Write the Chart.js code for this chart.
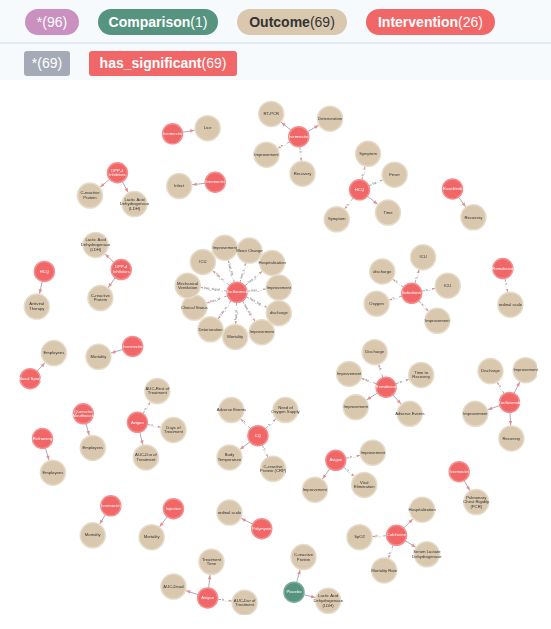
<!DOCTYPE html>
<html>
<head>
<meta charset="utf-8">
<script src="https://cdn.jsdelivr.net/npm/chart.js@4.4.0/dist/chart.umd.min.js"></script>
<style>
    body { margin: 0; width: 551px; height: 629px; overflow: hidden; background: #fff; font-family: "Liberation Sans", Arial, sans-serif; }
    .row1 { position: absolute; left: 0; top: 0; width: 551px; height: 42px; background: #f7fafd; border-bottom: 2px solid #e1eaf4; }
    .row2 { position: absolute; left: 0; top: 44px; width: 551px; height: 36px; background: #f7fafd; }
    .pill { position: absolute; top: 9px; height: 26px; line-height: 26px; border-radius: 13px; font-size: 14px; font-weight: bold; color: #fff; text-align: center; }
    .tag { position: absolute; top: 7px; height: 25px; line-height: 25px; border-radius: 3px; font-size: 14px; font-weight: bold; color: #fff; text-align: center; }
    .pill span, .tag span { font-weight: normal; }
    #wrap { position: absolute; left: 0; top: 80px; width: 551px; height: 549px; }
</style>
</head>
<body>
<div class="row1">
    <div class="pill" style="left:25px;width:54px;background:#c990c0;"><span>*(96)</span></div>
    <div class="pill" style="left:98px;width:120px;background:#569480;">Comparison<span>(1)</span></div>
    <div class="pill" style="left:237px;width:110px;background:#d9c8ae;color:#333;">Outcome<span>(69)</span></div>
    <div class="pill" style="left:366px;width:129px;background:#f16667;">Intervention<span>(26)</span></div>
</div>
<div class="row2">
    <div class="tag" style="left:24px;width:46px;background:#a5abb6;"><span>*(69)</span></div>
    <div class="tag" style="left:89px;width:148px;background:#f16667;">has_significant<span>(69)</span></div>
</div>
<div id="wrap"><canvas id="graph" width="551" height="549"></canvas></div>

<script>
// Intervention nodes (index 26 is the single Comparison node, Placebo)
const interventionNames = ['Ivermectin', 'DPP-4\nInhibitors', 'Ivermectin', 'Ivermectin', 'HCQ', 'Ruxolitinib',
    'HCQ', 'DPP-4\nInhibitors', 'Tocilizumab', 'Sofosbuvir', 'Remdesivir', 'Nasal Spray', 'Ivermectin',
    'Quercetin\nMouthwash', 'Reframing', 'Avigan', 'CQ', 'Remdesivir', 'Tocilizumab', 'Avigan',
    'Ivermectin', 'Ivermectin', 'Injection', 'Polymyxin', 'Avigan', 'Colchicine', 'Placebo'];
const interventionX = [167, 109, 212, 300, 364, 462, 32, 113, 235, 419, 515, 17, 125, 73, 30, 130, 257, 392, 522, 339, 469, 102, 168, 261, 204, 403, 295];
const interventionY = [122, 163, 173, 125, 181, 180, 267, 265, 289, 290, 264, 380, 346, 417, 443, 426, 440, 389, 405, 466, 478, 514, 517, 538, 611, 545, 605];

// Outcome nodes and the intervention each one hangs from
const outcomeNames = ['Lice',
    'C-reactive\nProtein', 'Lactic Acid\nDehydrogenase\n(LDH)',
    'Infect',
    'RT-PCR', 'Deterioration', 'Improvement', 'Recovery',
    'Symptom', 'Fever', 'Time', 'Symptom',
    'Recovery',
    'Antiviral\nTherapy',
    'Lactic Acid\nDehydrogenase\n(LDH)', 'C-reactive\nProtein',
    'Improvement', 'Mean Change', 'Hospitalisation', 'Improvement', 'discharge', 'Improvement',
    'Mortality', 'Deterioration', 'Clinical Status', 'Mechanical\nVentilation', 'ICU',
    'ICU', 'discharge', 'ICU', 'Oxygen', 'Improvement',
    'ordinal scale',
    'Employees', 'Mortality', 'Employees', 'Employees',
    'AUC-Rest of\nTreatment', 'Days of\nTreatment', 'AUC-Dur of\nTreatment',
    'Adverse Events', 'Need of\nOxygen Supply', 'Body\nTemperature', 'C-reactive\nProtein (CRP)',
    'Discharge', 'Improvement', 'Time to\nRecovery', 'Improvement', 'Adverse Events',
    'Discharge', 'Improvement', 'Improvement', 'Recovery',
    'Improvement', 'Viral\nElimination', 'Improvement',
    'Pulmonary\nChest Rigidity\n(PCR)',
    'Mortality', 'Mortality', 'ordinal scale',
    'Treatment\nTime', 'AUC-Dead', 'AUC-Dur of\nTreatment',
    'Hospitalization', 'SpO2', 'Serum Lactate\nDehydrogenase', 'Mortality Rate',
    'C-reactive\nProtein', 'Lactic Acid\nDehydrogenase\n(LDH)'];
const outcomeX = [204, 80, 127, 174, 271, 333, 266, 304, 373, 401, 394, 340, 484, 24, 86, 91,
    222, 248, 272, 279, 279, 261, 233, 207, 190, 183, 199,
    431, 388, 457, 382, 446, 523, 42, 89, 83, 41, 151, 168, 139,
    229, 286, 227, 273, 380, 353, 429, 360, 417, 502, 539, 486, 524,
    378, 369, 317, 487, 83, 145, 227, 208, 168, 243, 430, 364, 435, 390, 305, 331];
const outcomeY = [116, 187, 196, 177, 101, 106, 144, 164, 143, 165, 205, 212, 210, 304, 239, 295,
    242, 245, 258, 284, 311, 331, 336, 328, 305, 282, 257,
    252, 267, 282, 301, 319, 302, 353, 357, 453, 479, 393, 434, 463,
    413, 413, 463, 475, 352, 375, 376, 410, 417, 372, 371, 417, 443,
    458, 492, 497, 510, 545, 547, 521, 573, 599, 616, 518, 547, 565, 582, 568, 614];
const outcomeSource = [0, 1, 1, 2, 3, 3, 3, 3, 4, 4, 4, 4, 5, 6, 7, 7,
    8, 8, 8, 8, 8, 8, 8, 8, 8, 8, 8,
    9, 9, 9, 9, 9, 10, 11, 12, 13, 14, 15, 15, 15,
    16, 16, 16, 16, 17, 17, 17, 17, 17, 18, 18, 18, 18,
    19, 19, 19, 20, 21, 22, 23, 24, 24, 24, 25, 25, 25, 25, 26, 26];

const relType = 'has_significant';
const R_OUT = 12.5, R_INT = 10;

const pt = (xs, ys, i) => ({ x: xs[i], y: ys[i] });

// edges first in the data, but drawn under the nodes (higher order)
const edgeSets = outcomeNames.map((n, i) => ({
    data: [pt(interventionX, interventionY, outcomeSource[i]), pt(outcomeX, outcomeY, i)],
    showLine: true,
    borderColor: '#a5abb6',
    borderWidth: 1,
    pointRadius: 0,
    order: 10
}));

const interventionIdx = interventionNames.map((n, i) => i).filter(i => i < 26);

const nodeSets = [
    {
        label: 'Outcome',
        data: outcomeNames.map((n, i) => pt(outcomeX, outcomeY, i)),
        pointRadius: R_OUT,
        backgroundColor: '#d9c8ae',
        borderColor: '#e6dccb',
        borderWidth: 1.5,
        order: 1
    },
    {
        label: 'Intervention',
        data: interventionIdx.map(i => pt(interventionX, interventionY, i)),
        pointRadius: R_INT,
        backgroundColor: '#f16667',
        borderColor: '#f58e8f',
        borderWidth: 1.5,
        order: 1
    },
    {
        label: 'Comparison',
        data: [pt(interventionX, interventionY, 26)],
        pointRadius: R_INT,
        backgroundColor: '#569480',
        borderColor: '#7aab9b',
        borderWidth: 1.5,
        order: 1
    }
];

// arrows, relationship captions and node captions
const graphText = {
    id: 'graphText',
    afterDatasetsDraw(chart) {
        const ctx = chart.ctx;
        const xs = chart.scales.x, ys = chart.scales.y;
        ctx.save();

        outcomeNames.forEach((n, i) => {
            const s = outcomeSource[i];
            const x1 = xs.getPixelForValue(interventionX[s]), y1 = ys.getPixelForValue(interventionY[s]);
            const x2 = xs.getPixelForValue(outcomeX[i]), y2 = ys.getPixelForValue(outcomeY[i]);
            const dx = x2 - x1, dy = y2 - y1;
            const len = Math.hypot(dx, dy);
            const ux = dx / len, uy = dy / len;

            // arrow head at the outcome
            const tx = x2 - ux * (R_OUT + 1), ty = y2 - uy * (R_OUT + 1);
            ctx.fillStyle = '#ee8a8b';
            ctx.beginPath();
            ctx.moveTo(tx, ty);
            ctx.lineTo(tx - ux * 4 - uy * 1.8, ty - uy * 4 + ux * 1.8);
            ctx.lineTo(tx - ux * 4 + uy * 1.8, ty - uy * 4 - ux * 1.8);
            ctx.closePath();
            ctx.fill();

            // caption in the middle of the edge
            const gap = len - R_OUT - R_INT - 8;
            if (gap < 6) return;
            ctx.font = '3.5px "Liberation Sans", Arial, sans-serif';
            let txt = relType;
            if (ctx.measureText(txt).width > gap) {
                while (txt.length > 1 && ctx.measureText(txt + '…').width > gap) txt = txt.slice(0, -1);
                txt += '…';
            }
            const mx = x1 + ux * (R_INT + (len - R_INT - R_OUT) / 2);
            const my = y1 + uy * (R_INT + (len - R_INT - R_OUT) / 2);
            let ang = Math.atan2(dy, dx);
            if (ang > Math.PI / 2) ang -= Math.PI;
            if (ang < -Math.PI / 2) ang += Math.PI;
            const w = ctx.measureText(txt).width;
            ctx.save();
            ctx.translate(mx, my);
            ctx.rotate(ang);
            ctx.fillStyle = '#fff';
            ctx.fillRect(-w / 2 - 1, -2.2, w + 2, 4.4);
            ctx.fillStyle = '#666';
            ctx.textAlign = 'center';
            ctx.textBaseline = 'middle';
            ctx.fillText(txt, 0, 0);
            ctx.restore();
        });

        const caption = (txt, x, y, color) => {
            const lines = txt.split('\n');
            ctx.font = '4.2px "Liberation Sans", Arial, sans-serif';
            ctx.fillStyle = color;
            ctx.textAlign = 'center';
            ctx.textBaseline = 'middle';
            const lh = 4.6;
            lines.forEach((l, k) => {
                ctx.fillText(l, xs.getPixelForValue(x), ys.getPixelForValue(y) + (k - (lines.length - 1) / 2) * lh);
            });
        };
        outcomeNames.forEach((n, i) => caption(n, outcomeX[i], outcomeY[i], '#333'));
        interventionNames.forEach((n, i) => caption(n, interventionX[i], interventionY[i], '#fff'));

        ctx.restore();
    }
};

new Chart(document.getElementById('graph'), {
    type: 'scatter',
    data: { datasets: nodeSets.concat(edgeSets) },
    options: {
        responsive: false,
        animation: false,
        events: [],
        layout: { padding: 0 },
        plugins: { legend: { display: false }, tooltip: { enabled: false } },
        scales: {
            x: { type: 'linear', min: 0, max: 551, display: false },
            y: { type: 'linear', min: 80, max: 629, reverse: true, display: false }
        }
    },
    plugins: [graphText]
});
</script>
</body>
</html>
